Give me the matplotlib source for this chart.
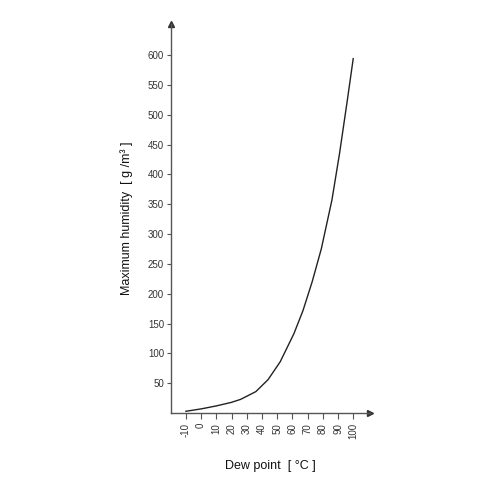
import matplotlib.pyplot as plt

plt.rcParams['font.family'] = ['Liberation Sans', 'DejaVu Sans']

# dew point (deg C) and maximum humidity (g/m3)
dew_point = [-10, 0, 10, 20, 26, 36, 44, 52, 61, 67, 73, 79, 86, 91, 96, 100]
max_humidity = [3, 7, 12, 18, 23, 36, 56, 86, 133, 172, 220, 275, 357, 435, 522, 594]

x_ticks = [-10, 0, 10, 20, 30, 40, 50, 60, 70, 80, 90, 100]
y_ticks = [50, 100, 150, 200, 250, 300, 350, 400, 450, 500, 550, 600]

text_color = '#333333'
line_color = '#222222'

fig = plt.figure(figsize=(4.9, 4.9), dpi=100)
ax = fig.add_axes([0.349, 0.157, 0.406, 0.794])

ax.plot(dew_point, max_humidity, color=line_color, lw=1.0)

ax.set_xlim(-19.8, 111)
ax.set_ylim(0, 652)
ax.set_xticks(x_ticks)
ax.set_yticks(y_ticks)
ax.set_xticklabels([str(v) for v in x_ticks], rotation=90)

for side in ['top', 'right']:
    ax.spines[side].set_visible(False)
for side in ['left', 'bottom']:
    ax.spines[side].set_color('#555555')
    ax.spines[side].set_linewidth(1.0)

ax.tick_params(axis='both', direction='out', colors='#555555', labelcolor=text_color,
               labelsize=7, width=0.8)
ax.tick_params(axis='y', length=3, pad=2)
ax.tick_params(axis='x', length=4, pad=3)

# arrow heads at the axis ends
ax.plot(1, 0, '>', color='#333333', ms=4, transform=ax.transAxes, clip_on=False)
ax.plot(0, 1, '^', color='#333333', ms=4, transform=ax.transAxes, clip_on=False)

ax.set_xlabel('Dew point  [ °C ]', fontsize=9, color='#111111', labelpad=15)
ax.set_ylabel('Maximum humidity  [ g /m³ ]', fontsize=9, color='#111111', labelpad=11)

fig.savefig('out.png', dpi=100)
